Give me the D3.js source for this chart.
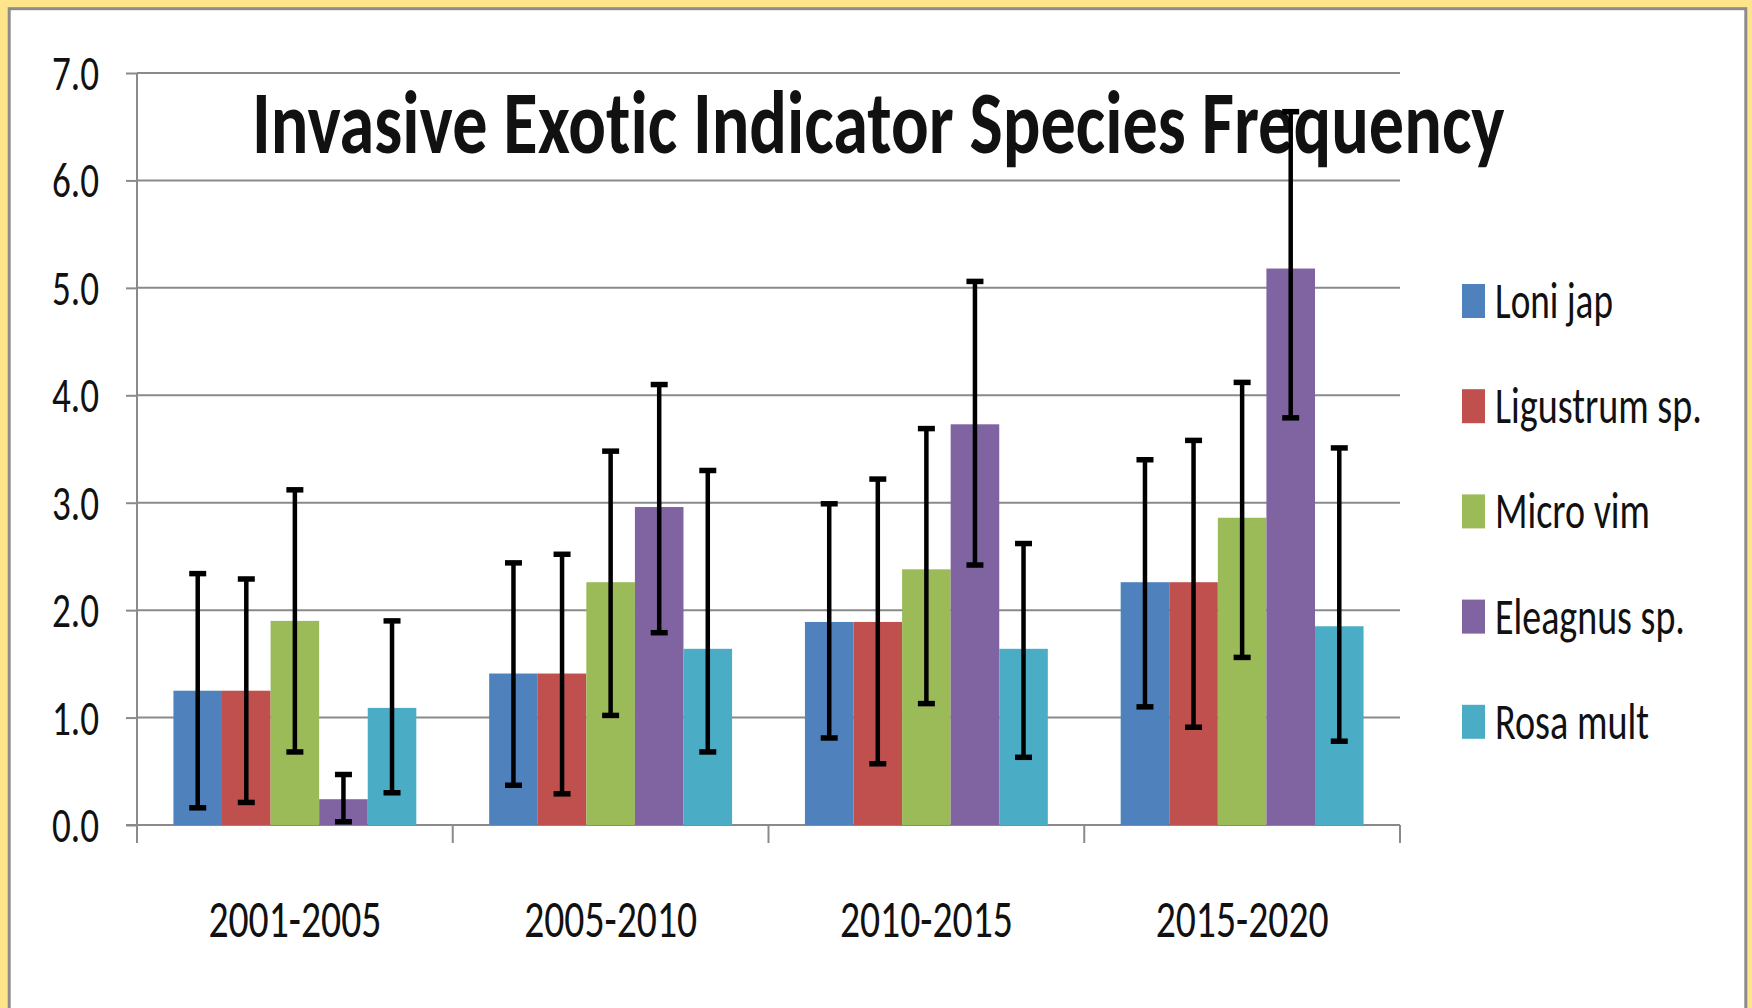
<!DOCTYPE html>
<html>
<head>
<meta charset="utf-8">
<script src="https://cdn.jsdelivr.net/npm/d3@7"></script>
<style>
  html, body { margin: 0; padding: 0; background: #FEE58C; }
  svg { display: block; }
  text { font-family: Carlito, Lato, "Open Sans", sans-serif; fill: #111; font-variant-ligatures: none; font-feature-settings: "liga" 0; }
</style>
</head>
<body>
<svg id="chart" width="1752" height="1008"></svg>
<script>
// ---- data ----
const categories = ["2001-2005", "2005-2010", "2010-2015", "2015-2020"];
const seriesNames = ["Loni jap", "Ligustrum sp.", "Micro vim", "Eleagnus sp.", "Rosa mult"];
const seriesColors = ["#4F81BD", "#C0504D", "#9BBB59", "#8064A2", "#4BACC6"];
// mean values, one row per series, one column per category
const values = [
  [1.25, 1.41, 1.89, 2.26],
  [1.25, 1.41, 1.89, 2.26],
  [1.90, 2.26, 2.38, 2.86],
  [0.24, 2.96, 3.73, 5.18],
  [1.09, 1.64, 1.64, 1.85]
];
// error bar upper ends
const errHigh = [
  [2.34, 2.44, 2.99, 3.40],
  [2.29, 2.52, 3.22, 3.58],
  [3.12, 3.48, 3.69, 4.12],
  [0.47, 4.10, 5.06, 6.64],
  [1.90, 3.30, 2.62, 3.51]
];
// error bar lower ends
const errLow = [
  [0.16, 0.37, 0.81, 1.10],
  [0.21, 0.29, 0.57, 0.91],
  [0.68, 1.02, 1.13, 1.56],
  [0.03, 1.79, 2.42, 3.79],
  [0.30, 0.68, 0.63, 0.78]
];
const yTicks = [0, 1, 2, 3, 4, 5, 6, 7];
const titleText = "Invasive Exotic Indicator Species Frequency";

// condense a text element horizontally to a target width, keeping its anchor point
function condense(node, target) {
  const b = node.getBBox();
  if (!b.width) return;
  const anchor = node.getAttribute("text-anchor") || getComputedStyle(node).textAnchor || "start";
  let ax = b.x;
  if (anchor === "middle") ax = b.x + b.width / 2;
  else if (anchor === "end") ax = b.x + b.width;
  const sx = target / b.width;
  node.setAttribute("transform", `translate(${ax},0) scale(${sx},1) translate(${-ax},0)`);
}

// ---- layout ----
const svg = d3.select("#chart");
const W = 1752, H = 1008;
const plot = { left: 137, right: 1400, top: 73, bottom: 825 };
const gridColor = "#8a8a8a";

svg.append("rect").attr("x", 0).attr("y", 0).attr("width", W).attr("height", H).attr("fill", "#FEE58C");
svg.append("rect").attr("x", 9.2).attr("y", 8.7).attr("width", 1736.6).attr("height", 1100)
  .attr("fill", "#ffffff").attr("stroke", "#8c8c8c").attr("stroke-width", 3);

const x = d3.scaleBand().domain(categories).range([plot.left, plot.right]).paddingInner(0).paddingOuter(0);
const catW = x.bandwidth();
const barW = catW / 6.5;
const xs = d3.scaleBand().domain(d3.range(seriesNames.length))
  .range([(catW - barW * 5) / 2, (catW + barW * 5) / 2]).padding(0);
const y = d3.scaleLinear().domain([0, 7]).range([plot.bottom, plot.top]);

// gridlines
svg.append("g").selectAll("line").data(yTicks).join("line")
  .attr("x1", plot.left).attr("x2", plot.right)
  .attr("y1", d => y(d)).attr("y2", d => y(d))
  .attr("stroke", gridColor).attr("stroke-width", 2);

// y axis
const yAxis = svg.append("g").attr("transform", `translate(${plot.left},0)`)
  .call(d3.axisLeft(y).tickValues(yTicks).tickFormat(d3.format(".1f")).tickSize(11).tickPadding(27));
yAxis.select(".domain").remove();
yAxis.selectAll(".tick line").attr("stroke", gridColor).attr("stroke-width", 2);
yAxis.selectAll(".tick text")
  .attr("font-size", 50).attr("dy", "0.33em")
  .style("font-family", "Carlito, Lato, 'Open Sans', sans-serif").attr("fill", "#111")
  .each(function () { condense(this, 47); });
svg.append("line").attr("x1", plot.left).attr("x2", plot.left)
  .attr("y1", plot.top).attr("y2", plot.bottom + 18)
  .attr("stroke", gridColor).attr("stroke-width", 2);

// x axis
svg.append("line").attr("x1", plot.left - 11).attr("x2", plot.right)
  .attr("y1", plot.bottom).attr("y2", plot.bottom)
  .attr("stroke", gridColor).attr("stroke-width", 2);
const boundaries = categories.map(c => x(c)).concat([x(categories[categories.length - 1]) + catW]);
svg.append("g").selectAll("line").data(boundaries.slice(1)).join("line")
  .attr("x1", d => d).attr("x2", d => d)
  .attr("y1", plot.bottom).attr("y2", plot.bottom + 18)
  .attr("stroke", gridColor).attr("stroke-width", 2);
const xAxis = svg.append("g").attr("transform", `translate(0,${plot.bottom})`)
  .call(d3.axisBottom(x).tickSize(0).tickPadding(0));
xAxis.select(".domain").remove();
xAxis.selectAll(".tick text")
  .attr("y", 112).attr("dy", 0)
  .attr("font-size", 53)
  .style("font-family", "Carlito, Lato, 'Open Sans', sans-serif").attr("fill", "#111")
  .each(function () { condense(this, 173); });

// title
svg.append("text").attr("x", 252).attr("y", 153)
  .attr("font-size", 90).attr("font-weight", "bold")
  .attr("fill", "#000").text(titleText)
  .each(function () { condense(this, 1253); });

// bars
const barData = [];
seriesNames.forEach((s, si) => {
  categories.forEach((c, ci) => {
    barData.push({ si, ci, c, v: values[si][ci], hi: errHigh[si][ci], lo: errLow[si][ci] });
  });
});
svg.append("g").selectAll("rect").data(barData).join("rect")
  .attr("x", d => x(d.c) + xs(d.si))
  .attr("width", xs.bandwidth())
  .attr("y", d => y(d.v))
  .attr("height", d => y(0) - y(d.v))
  .attr("fill", d => seriesColors[d.si]);

// error bars
const eb = svg.append("g").selectAll("g").data(barData).join("g")
  .attr("transform", d => `translate(${x(d.c) + xs(d.si) + xs.bandwidth() / 2},0)`);
eb.append("line").attr("x1", 0).attr("x2", 0)
  .attr("y1", d => y(d.hi)).attr("y2", d => y(d.lo))
  .attr("stroke", "#000").attr("stroke-width", 4.5);
eb.append("line").attr("x1", -8.5).attr("x2", 8.5)
  .attr("y1", d => y(d.hi)).attr("y2", d => y(d.hi))
  .attr("stroke", "#000").attr("stroke-width", 5.5);
eb.append("line").attr("x1", -8.5).attr("x2", 8.5)
  .attr("y1", d => y(d.lo)).attr("y2", d => y(d.lo))
  .attr("stroke", "#000").attr("stroke-width", 5.5);

// legend
const legendWidths = [118, 207, 155, 190, 154];
const legend = svg.append("g").selectAll("g").data(seriesNames).join("g")
  .attr("transform", (d, i) => `translate(1462,${284 + i * 105.2})`);
legend.append("rect").attr("x", 0).attr("y", 0).attr("width", 23).attr("height", 34)
  .attr("fill", (d, i) => seriesColors[i]);
legend.append("text").attr("x", 33).attr("y", 34)
  .attr("font-size", 52)
  .text(d => d)
  .each(function (d, i) { condense(this, legendWidths[i]); });
</script>
</body>
</html>
